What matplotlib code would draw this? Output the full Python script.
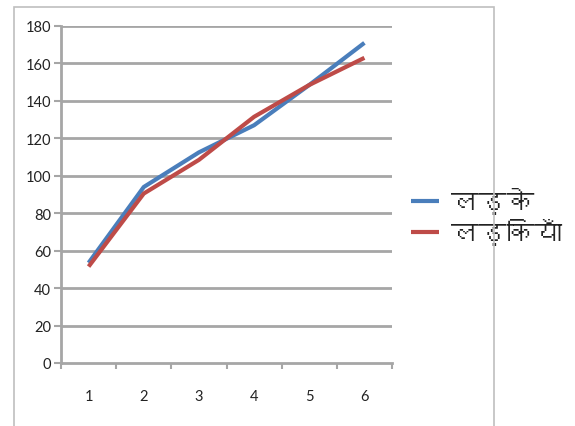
import matplotlib
matplotlib.use("Agg")
import matplotlib.pyplot as plt
from matplotlib import font_manager
from matplotlib.ft2font import FT2Font
from matplotlib.patches import Rectangle

categories = [1, 2, 3, 4, 5, 6]
boys = [53.5, 94, 112.5, 127, 148.5, 171]
girls = [51.5, 90.5, 108.5, 131.5, 148.5, 163]
series_names = ["ल\u095Cके", "ल\u095Cकियाँ"]
yticks = [0, 20, 40, 60, 80, 100, 120, 140, 160, 180]

# find a font with Devanagari glyphs (including the precomposed letter)
deva_family = None
fallback = None
for f in sorted(font_manager.findSystemFonts()):
    try:
        ft = FT2Font(f)
        cm = ft.get_charmap()
        if 0x0932 in cm and 0x0915 in cm:
            name = font_manager.FontProperties(fname=f).get_name()
            if 0x095C in cm:
                deva_family = name
                break
            if fallback is None:
                fallback = name
    except Exception:
        continue
if deva_family is None:
    deva_family = fallback
    series_names = ["लड़के", "लड़कियाँ"]
legend_families = ([deva_family] if deva_family else []) + ["DejaVu Sans"]

plt.rcParams['font.family'] = ['Lato', 'DejaVu Sans']

fig = plt.figure(figsize=(5.75, 4.27), dpi=100)
fig.patch.set_facecolor("white")
fig.patches.append(Rectangle((14 / 575, -0.1), (494 - 14) / 575, 1.1 - 8 / 427,
                             transform=fig.transFigure, fill=False,
                             edgecolor="#BFBFBF", linewidth=1.2))

ax = fig.add_axes([61 / 575, 1 - 364 / 427, (392 - 61) / 575, (364 - 27) / 427])
grid_c = "#A6A6A6"
for y in yticks[1:]:
    ax.axhline(y, color=grid_c, linewidth=2.0, zorder=1)

ax.plot(categories, boys, color="#4A7EBB", linewidth=3.0, label=series_names[0],
        zorder=3, solid_capstyle="butt")
ax.plot(categories, girls, color="#BE4B48", linewidth=3.0, label=series_names[1],
        zorder=4, solid_capstyle="butt")

ax.set_xlim(0.5, 6.5)
ax.set_ylim(0, 180)
ax.set_yticks(yticks)
ax.set_yticklabels([str(v) for v in yticks], fontsize=10.5, color="#222222")
ax.set_xticks(categories)
ax.set_xticklabels([str(c) for c in categories], fontsize=10.5, color="#222222")
ax.set_xticks([c - 0.5 for c in categories] + [6.5], minor=True)
ax.tick_params(axis="x", which="major", length=0, pad=19)
ax.tick_params(axis="x", which="minor", length=4, width=1.5, color=grid_c, direction="out")
ax.tick_params(axis="y", which="major", length=5, width=1.5, color=grid_c, pad=2)

for s in ["top", "right"]:
    ax.spines[s].set_visible(False)
for s in ["left", "bottom"]:
    ax.spines[s].set_color(grid_c)
    ax.spines[s].set_linewidth(2.0)

leg = ax.legend(loc="center left", bbox_to_anchor=(411 / 575, 1 - 217 / 427),
                bbox_transform=fig.transFigure, frameon=False,
                prop={"family": legend_families, "size": 20},
                handlelength=1.0, handletextpad=0.45, labelspacing=0.15,
                borderaxespad=0, borderpad=0)
for line in leg.get_lines():
    line.set_linewidth(3.0)
for t in leg.get_texts():
    t.set_color("#222222")

fig.savefig("out.png", dpi=100)
